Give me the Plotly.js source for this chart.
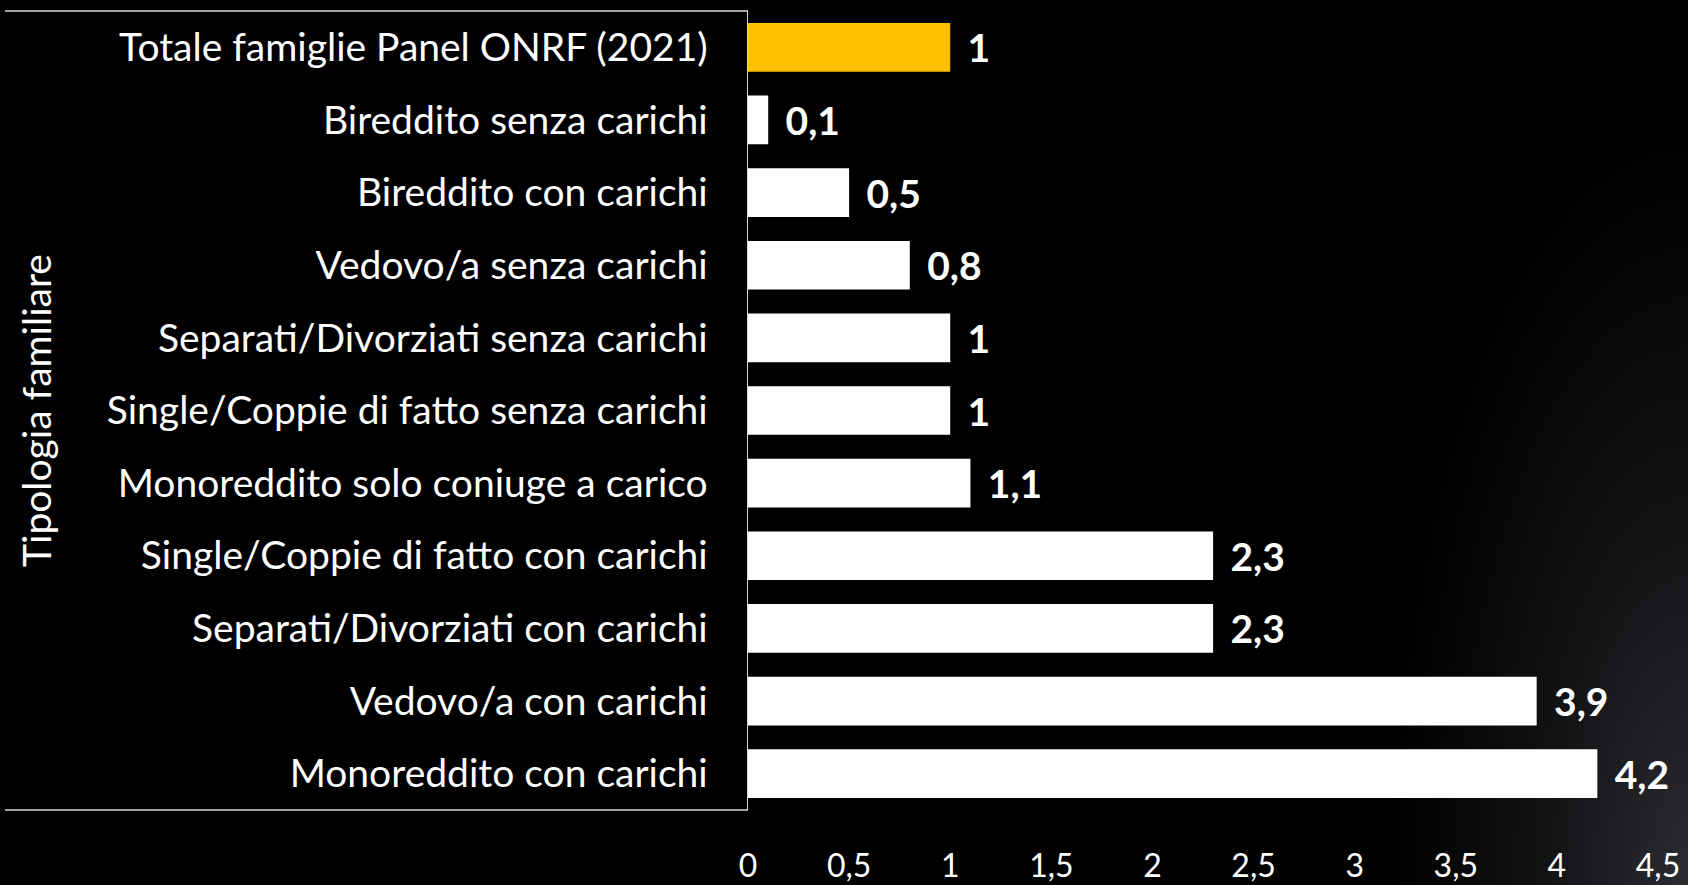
<!DOCTYPE html>
<html><head><meta charset="utf-8">
<script src="https://cdn.plot.ly/plotly-3.0.1.min.js"></script>
<style>
html,body{margin:0;padding:0;width:1688px;height:885px;overflow:hidden;
background:#000 radial-gradient(ellipse 300px 760px at 100% 100%, #2a2c30 0%, #131416 45%, rgba(0,0,0,0) 100%);}
#chart{width:1688px;height:885px;}
</style></head><body><div id="chart"></div>
<script>
const categories = [
  "Totale famiglie Panel ONRF (2021)",
  "Bireddito senza carichi",
  "Bireddito con carichi",
  "Vedovo/a senza carichi",
  "Separati/Divorziati senza carichi",
  "Single/Coppie di fatto senza carichi",
  "Monoreddito solo coniuge a carico",
  "Single/Coppie di fatto con carichi",
  "Separati/Divorziati con carichi",
  "Vedovo/a con carichi",
  "Monoreddito con carichi"
];
const values = [1, 0.1, 0.5, 0.8, 1, 1, 1.1, 2.3, 2.3, 3.9, 4.2];
const highlightCategory = "Totale famiglie Panel ONRF (2021)";
const axisTitle = "Tipologia familiare";

const FONT = "Lato, 'Open Sans', sans-serif";
const barColors = categories.map(c => c === highlightCategory ? "#FFC000" : "#FFFFFF");

const trace = {
  type: "bar",
  orientation: "h",
  y: categories,
  x: values,
  marker: {color: barColors},
  texttemplate: "\u00a0\u2009%{x:.1~f}",
  textposition: "outside",
  cliponaxis: false,
  textfont: {family: FONT, size: 39, color: "#FFFFFF", weight: "bold"},
  hoverinfo: "skip"
};

const plotW = 1658 - 748;
const layout = {
  width: 1688, height: 885,
  paper_bgcolor: "rgba(0,0,0,0)",
  plot_bgcolor: "rgba(0,0,0,0)",
  margin: {l: 748, r: 30, t: 11, b: 75},
  separators: ",.",
  bargap: 0.33,
  showlegend: false,
  font: {family: FONT, color: "#FFFFFF"},
  xaxis: {
    range: [0, 4.5], dtick: 0.5, tick0: 0,
    showgrid: false, zeroline: false, showline: false,
    ticks: "", ticklabelstandoff: 34,
    tickfont: {family: FONT, size: 32, color: "#FFFFFF"}
  },
  yaxis: {
    autorange: "reversed",
    showgrid: false, zeroline: false,
    showline: true, linecolor: "#d9d9d9", linewidth: 1.5,
    ticks: "", ticklabelstandoff: 31,
    tickfont: {family: FONT, size: 39, color: "#FFFFFF"},
    title: {text: axisTitle, font: {family: FONT, size: 39, color: "#FFFFFF"}, standoff: 43}
  },
  shapes: [
    {type: "line", xref: "paper", yref: "paper", x0: -743 / plotW, x1: 0, y0: 1, y1: 1,
     line: {color: "#d9d9d9", width: 1.5}},
    {type: "line", xref: "paper", yref: "paper", x0: -743 / plotW, x1: 0, y0: 0, y1: 0,
     line: {color: "#d9d9d9", width: 1.5}}
  ]
};

Plotly.newPlot("chart", [trace], layout, {displayModeBar: false, staticPlot: true});
</script></body></html>
